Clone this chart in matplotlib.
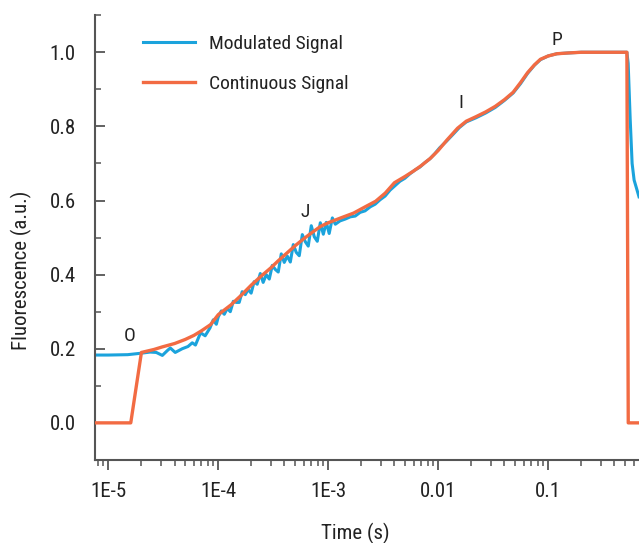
import matplotlib
matplotlib.use("Agg")
import matplotlib.pyplot as plt
from matplotlib.ticker import FixedLocator, FixedFormatter, LogLocator, MultipleLocator

plt.rcParams['font.family'] = ['Roboto Condensed', 'DejaVu Sans']

# Continuous signal (smooth reference curve)
cont_t = [7.6e-6, 1.6e-5, 2.0e-5, 2.6e-5, 3.1e-5, 4.0e-5, 5.0e-5, 6.0e-5, 7.0e-5, 8.5e-5,
          1.0e-4, 1.3e-4, 1.6e-4, 2.0e-4, 2.5e-4, 3.0e-4, 3.5e-4, 4.2e-4, 5.0e-4, 6.0e-4,
          7.0e-4, 8.5e-4, 1.0e-3, 1.3e-3, 1.7e-3, 2.2e-3, 2.7e-3, 3.3e-3, 4.0e-3, 5.0e-3,
          6.0e-3, 7.0e-3, 8.5e-3, 1.0e-2, 1.2e-2, 1.5e-2, 1.8e-2, 2.2e-2, 2.7e-2, 3.3e-2,
          4.0e-2, 4.8e-2, 5.6e-2, 6.5e-2, 7.5e-2, 8.5e-2, 0.1, 0.12, 0.15, 0.2,
          0.3, 0.52, 0.535, 0.7]
cont_f = [0.0, 0.0, 0.190, 0.198, 0.205, 0.214, 0.225, 0.236, 0.248, 0.265,
          0.292, 0.318, 0.343, 0.372, 0.398, 0.418, 0.437, 0.458, 0.478, 0.497,
          0.512, 0.530, 0.540, 0.553, 0.566, 0.584, 0.598, 0.620, 0.648, 0.665,
          0.680, 0.694, 0.714, 0.735, 0.763, 0.795, 0.814, 0.826, 0.839, 0.854,
          0.872, 0.892, 0.918, 0.945, 0.966, 0.981, 0.990, 0.996, 0.998, 1.0,
          1.0, 1.0, 0.0, 0.0]

# Modulated signal (noisy measurement)
mod_t = [7.6e-6, 1.0e-5, 1.5e-5, 2.0e-5, 2.4e-5, 2.73e-5, 3.1e-5, 3.44e-5, 3.66e-5, 4.06e-5,
         4.7e-5, 5.3e-5, 5.8e-5, 6.2e-5, 6.9e-5, 7.6e-5, 8.4e-5, 9.0e-5, 9.6e-5,
         1.00e-4, 1.065e-4, 1.134e-4, 1.208e-4, 1.286e-4, 1.37e-4, 1.46e-4, 1.55e-4, 1.65e-4, 1.76e-4,
         1.87e-4, 1.99e-4, 2.12e-4, 2.26e-4, 2.41e-4, 2.56e-4, 2.73e-4, 2.91e-4, 3.10e-4, 3.30e-4,
         3.51e-4, 3.74e-4, 3.98e-4, 4.24e-4, 4.52e-4, 4.81e-4, 5.12e-4, 5.45e-4, 5.81e-4, 6.18e-4,
         6.58e-4, 7.01e-4, 7.47e-4, 7.95e-4, 8.47e-4, 9.02e-4, 9.60e-4, 1.02e-3, 1.09e-3, 1.16e-3,
         1.28e-3, 1.43e-3, 1.59e-3, 1.76e-3, 1.95e-3, 2.16e-3, 2.41e-3, 2.67e-3, 2.96e-3, 3.29e-3,
         3.65e-3, 4.05e-3, 4.49e-3, 4.98e-3, 5.53e-3, 6.13e-3, 6.80e-3, 7.55e-3, 8.37e-3, 9.29e-3,
         1.03e-2, 1.19e-2, 1.36e-2, 1.56e-2, 1.8e-2, 2.2e-2, 2.7e-2, 3.3e-2, 4.0e-2, 4.8e-2,
         5.6e-2, 6.5e-2, 7.5e-2, 8.5e-2, 0.1, 0.12, 0.15, 0.2, 0.3, 0.52,
         0.534, 0.557, 0.580, 0.605, 0.67]
mod_f = [0.183, 0.183, 0.184, 0.188, 0.191, 0.190, 0.182, 0.195, 0.202, 0.190,
         0.200, 0.206, 0.216, 0.210, 0.243, 0.235, 0.256, 0.278, 0.266,
         0.286, 0.302, 0.293, 0.309, 0.300, 0.328, 0.325, 0.325, 0.354, 0.346,
         0.360, 0.350, 0.381, 0.374, 0.403, 0.379, 0.400, 0.388, 0.425, 0.414,
         0.407, 0.456, 0.433, 0.450, 0.434, 0.481, 0.460, 0.451, 0.508, 0.489,
         0.477, 0.532, 0.502, 0.490, 0.540, 0.509, 0.541, 0.511, 0.553, 0.536,
         0.545, 0.550, 0.556, 0.558, 0.568, 0.572, 0.583, 0.590, 0.602, 0.612,
         0.628, 0.640, 0.652, 0.660, 0.672, 0.682, 0.690, 0.702, 0.712, 0.726,
         0.742, 0.760, 0.778, 0.797, 0.812, 0.823, 0.836, 0.851, 0.870, 0.890,
         0.915, 0.943, 0.965, 0.980, 0.990, 0.996, 0.998, 1.0, 1.0, 1.0,
         0.97, 0.82, 0.70, 0.655, 0.61]

# Phase labels
phase_names = ['O', 'J', 'I', 'P']
phase_t = [1.55e-5, 6.2e-4, 1.6e-2, 0.12]
phase_f = [0.234, 0.569, 0.862, 1.032]

blue = '#1ba3dc'
orange = '#f26b43'
text_color = '#222222'
spine_color = '#555555'

fig = plt.figure(figsize=(6.39, 5.43), dpi=100)
ax = fig.add_axes([0.149, 0.153, 0.851, 0.819])

ax.plot(mod_t, mod_f, color=blue, lw=2.2, label='Modulated Signal', zorder=2)
ax.plot(cont_t, cont_f, color=orange, lw=2.4, label='Continuous Signal', zorder=3)

for name, t, f in zip(phase_names, phase_t, phase_f):
    ax.text(t, f, name, fontsize=14, color=text_color, ha='center', va='center')

ax.set_xscale('log')
ax.set_xlim(7.6e-6, 0.67)
ax.set_ylim(-0.1, 1.1)

ax.xaxis.set_major_locator(FixedLocator([1e-5, 1e-4, 1e-3, 1e-2, 1e-1]))
ax.xaxis.set_major_formatter(FixedFormatter(['1E-5', '1E-4', '1E-3', '0.01', '0.1']))
ax.xaxis.set_minor_locator(LogLocator(base=10, subs=range(2, 10)))
ax.yaxis.set_major_locator(FixedLocator([0.0, 0.2, 0.4, 0.6, 0.8, 1.0]))
ax.yaxis.set_minor_locator(MultipleLocator(0.1))
ax.set_yticklabels(['0.0', '0.2', '0.4', '0.6', '0.8', '1.0'])

for side in ['top', 'right']:
    ax.spines[side].set_visible(False)
for side in ['left', 'bottom']:
    ax.spines[side].set_color(spine_color)
    ax.spines[side].set_linewidth(1.5)

ax.tick_params(axis='x', which='major', direction='out', length=7, width=1.3,
               color=spine_color, labelsize=15, labelcolor=text_color, pad=9)
ax.tick_params(axis='x', which='minor', direction='out', length=4, width=1.1, color=spine_color)
ax.tick_params(axis='y', which='major', direction='in', length=7, width=1.3,
               color=spine_color, labelsize=15, labelcolor=text_color, pad=14)
ax.tick_params(axis='y', which='minor', direction='in', length=4, width=1.1, color=spine_color)

ax.set_xlabel('Time (s)', fontsize=15, color=text_color)
ax.set_ylabel('Fluorescence (a.u.)', fontsize=15, color=text_color)
ax.xaxis.set_label_coords(0.478, -0.142)
ax.yaxis.set_label_coords(-0.117, 0.427)

leg = ax.legend(loc='upper left', bbox_to_anchor=(0.055, 0.995), frameon=False,
                fontsize=14, handlelength=2.7, handletextpad=0.7, labelspacing=1.12)
for t in leg.get_texts():
    t.set_color(text_color)

fig.savefig('out.png', dpi=100)
